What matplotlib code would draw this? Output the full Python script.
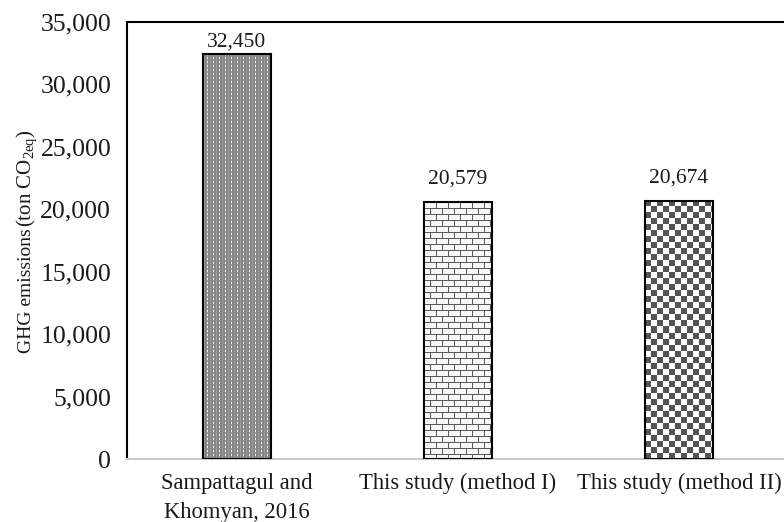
import numpy as np
import matplotlib
matplotlib.use("Agg")
import matplotlib.pyplot as plt

categories = ["Sampattagul and\nKhomyan, 2016", "This study (method I)", "This study (method II)"]
values = [32450, 20579, 20674]
value_labels = ["32,450", "20,579", "20,674"]
yticks = [0, 5000, 10000, 15000, 20000, 25000, 30000, 35000]
patterns = ["dots", "bricks", "checker"]

plt.rcParams["font.family"] = ["Liberation Serif", "DejaVu Serif"]
plt.rcParams["mathtext.fontset"] = "custom"
plt.rcParams["mathtext.rm"] = "Liberation Serif"
plt.rcParams["mathtext.it"] = "Liberation Serif:italic"


def make_pattern(kind, h, w):
    """Return an RGB array (h x w) with the fill pattern, one cell per pixel."""
    i, j = np.mgrid[0:h, 0:w]
    img = np.ones((h, w))
    if kind == "dots":
        img = np.full((h, w), 0.52)
        img = np.where((j % 3 == 1), 0.62, img)
        img = np.where((j % 6 == 4) & (i % 4 < 2), 0.93, img)
    elif kind == "bricks":
        row = i // 6
        off = np.where(row % 2 == 0, 0, 6)
        img = np.full((h, w), 0.97)
        img = np.where(i % 6 == 0, 0.35, img)
        img = np.where((j + off) % 12 == 0, 0.35, img)
    elif kind == "checker":
        img = np.where(((i // 6) + (j // 6)) % 2 == 0, 0.33, 1.0)
    return np.dstack([img, img, img])


fig = plt.figure(figsize=(7.84, 5.22), dpi=100)
ax = fig.add_axes([126.5 / 784, 1 - 459 / 522, 663 / 784, 437 / 522])

x = np.arange(len(categories))
bars = ax.bar(x, values, width=0.31, facecolor="none", edgecolor="black", linewidth=1.5, zorder=3)
ax.set_xlim(-0.5, 2.5)
ax.set_ylim(0, 35000)

# fill each bar with its pattern, clipped to the bar
for bar, kind in zip(bars, patterns):
    x0, y0 = bar.get_x(), bar.get_y()
    x1, y1 = x0 + bar.get_width(), y0 + bar.get_height()
    (px0, py0), (px1, py1) = ax.transData.transform([(x0, y0), (x1, y1)])
    h, w = int(round(py1 - py0)), int(round(px1 - px0))
    im = ax.imshow(make_pattern(kind, h, w), extent=(x0, x1, y0, y1),
                   interpolation="nearest", aspect="auto", zorder=2)
    im.set_clip_path(bar)

ax.set_xlim(-0.5, 2.5)
ax.set_ylim(0, 35000)

# value labels, kept inside the plot area like Excel does
for xi, v, lab in zip(x, values, value_labels):
    ax.text(xi, min(v + 1450, 33000), lab, ha="center", va="baseline", fontsize=15.5, color="#1a1a1a")

ax.set_yticks(yticks)
ax.set_yticklabels([f"{t:,}" for t in yticks])
ax.set_xticks(x)
ax.set_xticklabels(categories, linespacing=1.5)
ax.tick_params(axis="y", length=0, pad=11, labelsize=18.5, labelcolor="#1a1a1a")
ax.tick_params(axis="x", length=0, pad=10, labelsize=16.3, labelcolor="#1a1a1a")

for s in ["top", "left"]:
    ax.spines[s].set_color("black")
    ax.spines[s].set_linewidth(1.5)
ax.spines["right"].set_visible(False)
ax.spines["bottom"].set_color("#c8c8c8")
ax.spines["bottom"].set_linewidth(1.5)

fig.text(31 / 784, 1 - 353 / 522, "GHG emissions", rotation=90, rotation_mode="anchor",
         ha="left", va="baseline", fontsize=14, color="#1a1a1a")
fig.text(31 / 784, 1 - 227 / 522, r"(ton CO$_{\mathrm{2eq}}$)", rotation=90, rotation_mode="anchor",
         ha="left", va="baseline", fontsize=15, color="#1a1a1a")

fig.savefig("out.png", dpi=100)
